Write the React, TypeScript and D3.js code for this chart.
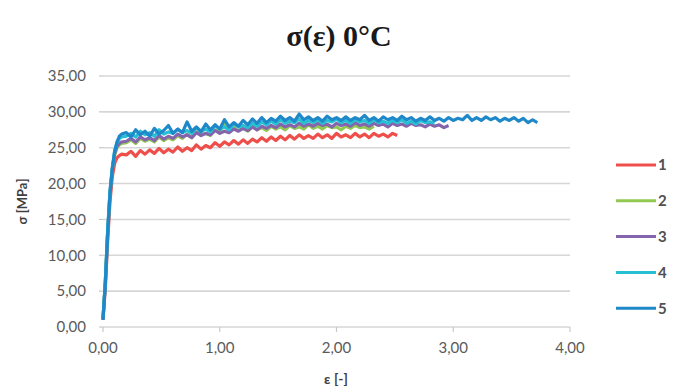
import * as d3 from 'd3'

// sampled stress curves, σ in MPa vs ε [-]
// initial (elastic) rise as [strain, stress] pairs, then plateau samples on a fixed strain grid
const PLATEAU_START = 0.2
const PLATEAU_STEP = 0.04

const RISE_1: [number, number][] = [[0, 1.0], [0.02, 5.5], [0.04, 12], [0.06, 17.5], [0.08, 21], [0.1, 22.8], [0.12, 23.6], [0.14, 23.9], [0.16, 24.1]]
const RISE_2: [number, number][] = [[0, 1.2], [0.02, 6.2], [0.04, 13.2], [0.06, 18.6], [0.08, 22], [0.1, 24], [0.12, 25], [0.14, 25.4], [0.16, 25.6]]
const RISE_3: [number, number][] = [[0, 1.1], [0.02, 6.3], [0.04, 13.3], [0.06, 18.8], [0.08, 22.1], [0.1, 24.2], [0.12, 25.2], [0.14, 25.6], [0.16, 25.8]]
const RISE_4: [number, number][] = [[0, 1.2], [0.02, 6.5], [0.04, 13.5], [0.06, 19], [0.08, 22.3], [0.1, 24.6], [0.12, 25.7], [0.14, 26.3], [0.16, 26.5]]
const RISE_5: [number, number][] = [[0, 1.0], [0.02, 6], [0.04, 13], [0.06, 18.5], [0.08, 22], [0.1, 24.5], [0.12, 25.8], [0.14, 26.6], [0.16, 26.9]]

const PLATEAU_1 = [
  24.0, 24.5, 23.8, 24.6, 24.1, 24.7, 24.2, 24.9, 24.3, 24.8,
  24.4, 25.1, 24.5, 25.0, 24.6, 25.4, 24.8, 25.3, 25.0, 25.7,
  25.2, 25.8, 25.4, 26.0, 25.5, 26.1, 25.6, 26.2, 25.8, 26.4,
  25.9, 26.5, 26.0, 26.6, 26.1, 26.7, 26.2, 26.8, 26.3, 26.7,
  26.3, 26.9, 26.4, 26.8, 26.3, 27.0, 26.5, 26.8, 26.4, 27.0,
  26.5, 26.9, 26.4, 27.0, 26.6, 26.9, 26.5, 27.0, 26.7,
]
const PLATEAU_2 = [
  25.7, 26.1, 25.6, 26.3, 25.9, 26.2, 25.8, 26.5, 26.0, 26.4,
  26.1, 26.7, 26.3, 26.9, 26.4, 27.2, 26.8, 27.0, 26.7, 27.5,
  27.1, 28.4, 27.3, 27.8, 27.4, 27.7, 27.3, 27.9, 27.5, 27.8,
  27.4, 28.0, 27.6, 27.9, 27.5, 28.1, 27.7, 27.9, 27.6, 28.2,
  27.7, 28.0, 27.6, 28.1, 27.8, 27.9, 27.5, 28.0, 27.7, 28.1,
  27.8, 27.9, 27.6, 28.0,
]
const PLATEAU_3 = [
  25.9, 26.3, 25.8, 26.5, 26.1, 26.4, 26.0, 26.7, 26.2, 26.6,
  26.3, 26.9, 26.5, 26.8, 26.4, 27.1, 26.7, 27.0, 26.8, 27.4,
  27.0, 27.3, 27.1, 27.6, 27.3, 27.7, 27.4, 27.9, 27.5, 28.0,
  27.7, 28.1, 27.8, 28.3, 27.9, 28.2, 27.9, 28.4, 28.0, 28.3,
  28.0, 28.4, 28.1, 28.3, 27.9, 28.4, 28.1, 28.3, 28.0, 28.5,
  28.1, 28.3, 28.0, 28.4, 28.1, 28.3, 27.9, 28.4, 28.1, 28.3,
  28.0, 28.4, 28.1, 28.2, 27.9, 28.3, 28.0, 28.2, 27.8, 28.1,
]
const PLATEAU_4 = [
  26.6, 27.0, 26.5, 27.3, 26.8, 27.1, 26.6, 27.5, 26.9, 27.2,
  27.0, 27.6, 27.1, 27.4, 27.0, 27.8, 27.3, 27.6, 27.2, 28.1,
  27.6, 27.9, 27.5, 28.3, 27.9, 28.1, 27.8, 28.4, 28.0, 28.6,
  28.2, 28.7, 28.3, 28.9, 28.4, 28.7, 28.5, 29.0, 28.4, 28.8,
  28.5, 28.9, 28.4, 28.8, 28.6, 29.0, 28.5, 28.8, 28.4, 28.9,
  28.6, 28.8, 28.4, 28.9, 28.5, 28.7, 28.4, 28.8, 28.5, 28.9,
  28.4, 28.7, 28.3, 28.8, 28.5, 28.6, 28.4,
]
const PLATEAU_5 = [
  27.1, 26.5, 27.5, 26.8, 27.3, 26.6, 27.7, 26.9, 27.4, 28.1,
  27.0, 27.6, 27.1, 28.6, 27.3, 27.9, 27.2, 28.3, 27.5, 28.2,
  27.6, 28.9, 27.9, 28.5, 28.0, 28.8, 28.2, 29.0, 28.4, 29.2,
  28.5, 29.1, 28.7, 29.4, 28.8, 29.2, 28.7, 29.7, 28.9, 29.3,
  28.8, 29.2, 28.7, 29.4, 28.9, 29.2, 28.8, 29.3, 28.8, 29.2,
  28.9, 29.5, 28.8, 29.2, 28.7, 29.3, 28.9, 29.2, 28.8, 29.4,
  28.9, 29.2, 28.7, 29.1, 28.8, 29.3, 28.8, 29.1, 28.7, 29.2,
  28.8, 29.1, 28.9, 29.5, 28.8, 29.2, 28.8, 29.3, 28.9, 29.2,
  28.7, 29.1, 28.8, 29.2, 28.7, 29.1, 28.5, 28.9, 28.5,
]

const SERIES_NAMES = ['1', '2', '3', '4', '5']
const SERIES_COLORS = ['#ee4f4b', '#93c953', '#8465ad', '#27bfd3', '#1e88c9']
const RISES = [RISE_1, RISE_2, RISE_3, RISE_4, RISE_5]
const PLATEAUS = [PLATEAU_1, PLATEAU_2, PLATEAU_3, PLATEAU_4, PLATEAU_5]

const X_TICKS = [0, 1, 2, 3, 4]
const Y_TICKS = [0, 5, 10, 15, 20, 25, 30, 35]

const W = 678
const H = 392
const PLOT = { l: 103, r: 570, t: 76, b: 327 }
const LABEL_FONT = 'Lato, "Open Sans", sans-serif'

const fmt = (v: number) => v.toFixed(2).replace('.', ',')

export default function App() {
  const x = d3.scaleLinear().domain([0, 4]).range([PLOT.l, PLOT.r])
  const y = d3.scaleLinear().domain([0, 35]).range([PLOT.b, PLOT.t])
  const line = d3.line<[number, number]>().x((d) => x(d[0])).y((d) => y(d[1]))

  const series = SERIES_NAMES.map((name, i) => {
    const pts: [number, number][] = [...RISES[i], ...PLATEAUS[i].map((v, j) => [PLATEAU_START + j * PLATEAU_STEP, v] as [number, number])]
    return { name, color: SERIES_COLORS[i], pts }
  })

  return (
    <svg width={W} height={H} style={{ position: 'absolute', left: 0, top: 0, background: '#fff' }}>
      <text x={339} y={46} textAnchor="middle" fontFamily='"Liberation Serif", "Times New Roman", serif' fontWeight="bold" fontSize={30} fill="#1a1a1a">σ(ε) 0°C</text>

      {/* gridlines */}
      {Y_TICKS.map((t) => (
        <g key={t}>
          <line x1={PLOT.l} x2={PLOT.r} y1={y(t)} y2={y(t)} stroke="#d6d6d6" strokeWidth={1.6} />
          <line x1={PLOT.l - 4} x2={PLOT.l} y1={y(t)} y2={y(t)} stroke="#c8c8c8" strokeWidth={1.2} />
          <text x={86} y={y(t)} dy="0.35em" textAnchor="end" fontFamily={LABEL_FONT} fontSize={15} fill="#5a5a5a">{fmt(t)}</text>
        </g>
      ))}
      {X_TICKS.map((t) => (
        <g key={t}>
          <line x1={x(t)} x2={x(t)} y1={PLOT.b} y2={PLOT.b + 5} stroke="#c8c8c8" strokeWidth={1.2} />
          <text x={x(t)} y={PLOT.b + 26} textAnchor="middle" fontFamily={LABEL_FONT} fontSize={15} fill="#5a5a5a">{fmt(t)}</text>
        </g>
      ))}

      {/* curves */}
      {series.map((s) => (
        <path key={s.name} d={line(s.pts) ?? ''} fill="none" stroke={s.color} strokeWidth={3.2} strokeLinejoin="round" />
      ))}

      {/* axis titles */}
      <text transform={`translate(27,${(PLOT.t + PLOT.b) / 2}) rotate(-90)`} textAnchor="middle" fontFamily={LABEL_FONT} fontWeight="bold" fontSize={13} fill="#404040">σ [MPa]</text>
      <text x={336} y={384} textAnchor="middle" fontFamily={LABEL_FONT} fontWeight="bold" fontSize={14} fill="#404040">ε [-]</text>

      {/* legend */}
      {series.map((s, i) => {
        const ly = 165 + i * 35.8
        return (
          <g key={s.name}>
            <line x1={616} x2={656} y1={ly} y2={ly} stroke={s.color} strokeWidth={3} />
            <text x={658} y={ly} dy="0.36em" fontFamily={LABEL_FONT} fontWeight="bold" fontSize={15} fill="#505050">{s.name}</text>
          </g>
        )
      })}
    </svg>
  )
}
